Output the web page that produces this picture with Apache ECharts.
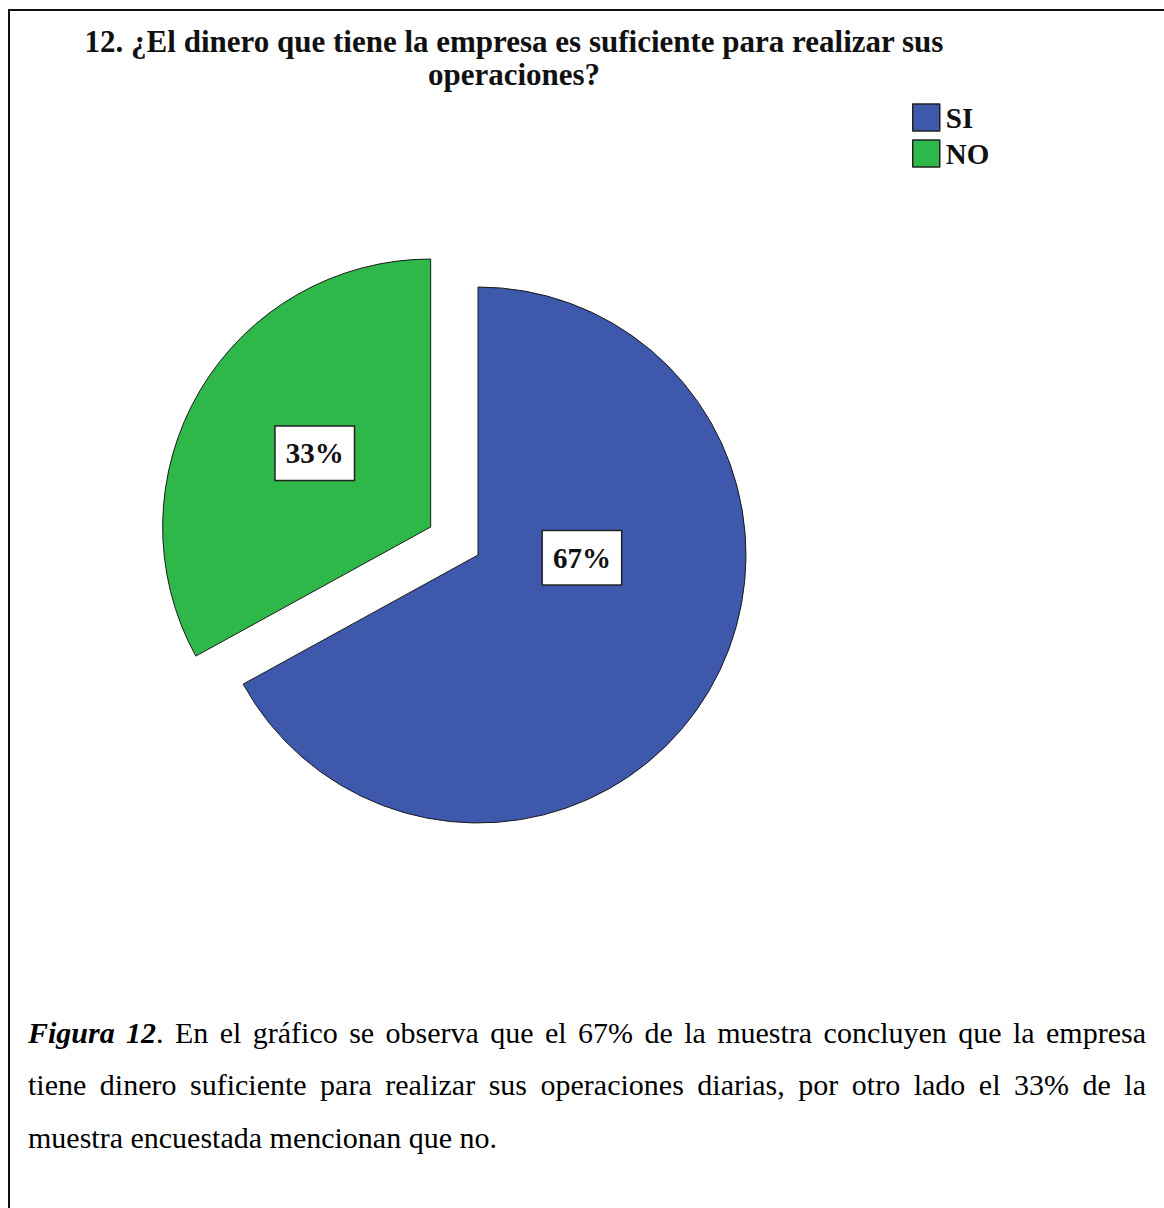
<!DOCTYPE html>
<html>
<head>
<meta charset="utf-8">
<script src="https://cdn.jsdelivr.net/npm/echarts@6/dist/echarts.min.js"></script>
<style>
  html, body { margin: 0; padding: 0; background: #fff; }
  #wrap { position: relative; width: 1164px; height: 1208px; overflow: hidden; background: #fff; }
  #chart { position: absolute; left: 0; top: 0; width: 1164px; height: 1000px; }
  #frame { position: absolute; left: 8px; top: 9px; width: 1200px; height: 1250px;
           border-top: 2px solid #111; border-left: 2px solid #111; pointer-events: none; }
  .cap { position: absolute; left: 28px; width: 1118px; font-family: 'Liberation Serif', 'Times New Roman', serif;
         font-size: 30px; line-height: 52px; color: #000; white-space: nowrap; }
  .just { text-align: justify; text-align-last: justify; white-space: normal; }
</style>
</head>
<body>
<div id="wrap">
  <div id="chart"></div>
  <div id="frame"></div>
  <div class="cap just" style="top:1007px"><b><i>Figura 12</i></b>. En el gráfico se observa que el 67% de la muestra concluyen que la empresa</div>
  <div class="cap just" style="top:1059px">tiene dinero suficiente para realizar sus operaciones diarias, por otro lado el 33% de la</div>
  <div class="cap" style="top:1112px">muestra encuestada mencionan que no.</div>
</div>
<script>
const titleLines = ['12. ¿El dinero que tiene la empresa es suficiente para realizar sus', 'operaciones?'];
const categories = ['SI', 'NO'];
const values = [67, 33];
const sliceColors = ['#3E58AC', '#2EB84A'];

const serif = "'Liberation Serif', 'Times New Roman', serif";
const chart = echarts.init(document.getElementById('chart'), null, { renderer: 'svg' });

chart.setOption({
  animation: false,
  backgroundColor: 'transparent',
  title: {
    text: titleLines.join('\n'),
    left: 514,
    top: 25,
    textAlign: 'center',
    padding: 0,
    textStyle: { fontFamily: serif, fontWeight: 'bold', fontSize: 31, lineHeight: 33, color: '#111' }
  },
  legend: {
    orient: 'vertical',
    left: 912,
    top: 103,
    padding: 0,
    itemWidth: 27,
    itemHeight: 27,
    itemGap: 7,
    icon: 'rect',
    selectedMode: false,
    itemStyle: { borderColor: '#222', borderWidth: 1.5 },
    textStyle: { fontFamily: serif, fontWeight: 'bold', fontSize: 29, color: '#111', padding: [0, 0, 0, 1] },
    data: categories
  },
  series: [{
    type: 'pie',
    center: [478, 555],
    radius: 268,
    startAngle: 90,
    clockwise: true,
    selectedMode: 'single',
    selectedOffset: 55,
    avoidLabelOverlap: false,
    emphasis: { disabled: true },
    itemStyle: { borderColor: '#1a1a1a', borderWidth: 1 },
    label: {
      show: true,
      position: 'inside',
      formatter: '{c}%',
      fontFamily: serif,
      fontWeight: 'bold',
      fontSize: 29,
      color: '#111',
      backgroundColor: '#fff',
      borderColor: '#222',
      borderWidth: 1.5,
      padding: [13, 10, 11, 10]
    },
    labelLine: { show: false },
    labelLayout: function (p) {
      return p.dataIndex === 0 ? { dx: -14, dy: -67 } : { dx: 2, dy: -4 };
    },
    data: categories.map((c, i) => ({
      name: c,
      value: values[i],
      selected: i === 1,
      itemStyle: { color: sliceColors[i] }
    }))
  }]
});
</script>
</body>
</html>
